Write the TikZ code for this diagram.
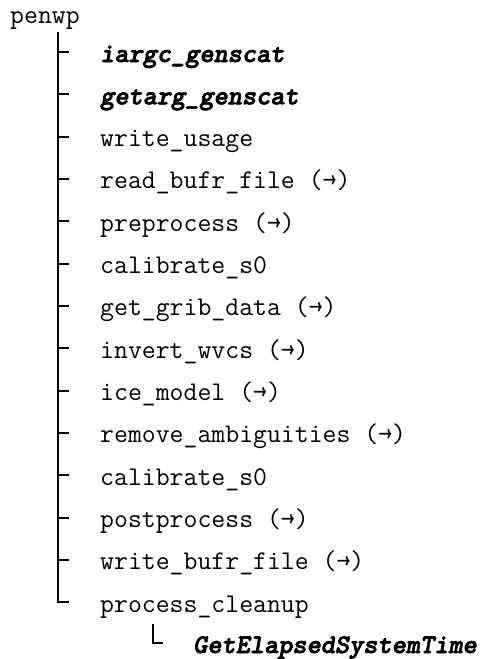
\documentclass[tikz,border=0pt]{standalone}
\usepackage{fontspec}
\newfontfamily\libfont{lmmonolt10-boldoblique.otf}[FakeBold=2.5]
\tikzset{fn/.style={anchor=west,font=\ttfamily\fontsize{27}{32}\selectfont,text height=20pt,text depth=0pt,inner sep=0pt},
lib/.style={fn,font=\libfont\fontsize{27}{32}\selectfont},
branch/.style={line width=2pt}}

\begin{document}
\begin{tikzpicture}[x=1pt,y=1pt]
		\useasboundingbox (0,0) rectangle (483,-659);
		\node[anchor=base west,inner sep=0pt,font=\ttfamily\fontsize{27}{32}\selectfont] (root) at (10,-23) {penwp};
		\coordinate (top) at (58,-32);
		\foreach \s/\t [count=\i] in {lib/iargc\_genscat,lib/getarg\_genscat,fn/write\_usage,fn/read\_bufr\_file (→),fn/preprocess (→),fn/calibrate\_s0,fn/get\_grib\_data (→),fn/invert\_wvcs (→),fn/ice\_model (→),fn/remove\_ambiguities (→),fn/calibrate\_s0,fn/postprocess (→),fn/write\_bufr\_file (→),fn/process\_cleanup}
		{
			\node[\s] (n\i) at (100,{-52-42.33*(\i-1)}) {\t};
			\draw[branch] (top) |- ([xshift=-31pt]n\i.west);
		}
		% called from process_cleanup
		\coordinate (sub) at (153,-624);
		\node[lib] (n15) at (193,-643) {GetElapsedSystemTime};
		\draw[branch] (sub) |- ([xshift=-30pt]n15.west);
	\end{tikzpicture}
\end{document}
